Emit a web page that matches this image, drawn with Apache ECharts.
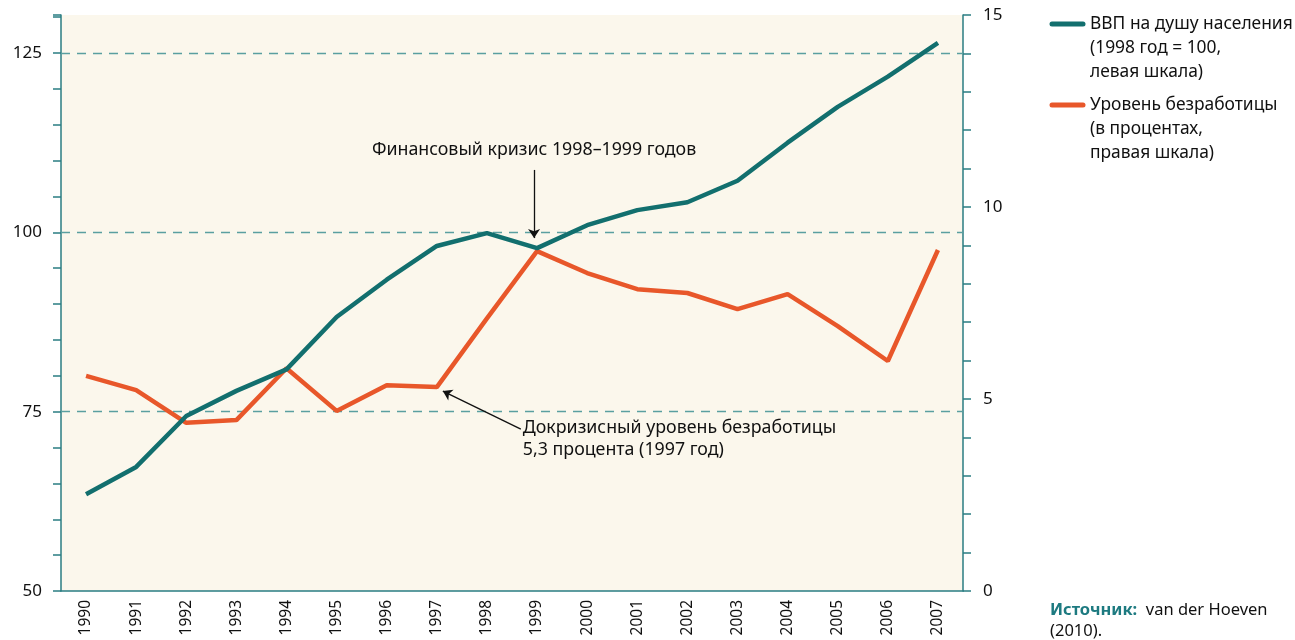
<!DOCTYPE html>
<html>
<head>
<meta charset="utf-8">
<script src="https://cdn.jsdelivr.net/npm/echarts@6/dist/echarts.min.js"></script>
<style>
  html, body { margin: 0; padding: 0; background: #fff; }
  #main { width: 1295px; height: 640px; }
</style>
</head>
<body>
<div id="main"></div>
<script>
var years = ['1990', '1991', '1992', '1993', '1994', '1995', '1996', '1997', '1998',
  '1999', '2000', '2001', '2002', '2003', '2004', '2005', '2006', '2007'];
// ВВП на душу населения, 1998 = 100 (левая шкала)
var gdpPerCapita = [63.5, 67.3, 74.4, 77.9, 80.9, 88.2, 93.4, 98.1, 99.9,
  97.8, 101.0, 103.1, 104.2, 107.2, 112.5, 117.5, 121.7, 126.4];
// Уровень безработицы, % (правая шкала)
var unemployment = [5.6, 5.23, 4.38, 4.45, 5.8, 4.69, 5.36, 5.31, 7.1,
  8.85, 8.28, 7.86, 7.76, 7.34, 7.73, 6.9, 5.99, 8.88];
var leftGridLines = [75, 100, 125];
var leftLabels = [50, 75, 100, 125];

var teal = '#126f6e';
var orange = '#e8572a';
var axisTeal = '#2a7d82';
var dashTeal = '#5a9fa0';
var font = 'Noto Sans';

var chart = echarts.init(document.getElementById('main'));

var option = {
  animation: false,
  grid: {
    left: 61, right: 332, top: 15, bottom: 49,
    show: true, backgroundColor: '#fbf7ec', borderWidth: 0
  },
  xAxis: {
    type: 'category',
    data: years,
    boundaryGap: true,
    axisLine: { lineStyle: { color: axisTeal, width: 1.5 } },
    axisTick: { length: 8, lineStyle: { color: axisTeal, width: 1.5 } },
    axisLabel: { rotate: 90, margin: 9, color: '#111', fontSize: 15.5, fontFamily: font },
    splitLine: { show: false }
  },
  yAxis: [
    {
      type: 'value',
      min: 50, max: 130.3, interval: 5,
      axisLine: { show: true, lineStyle: { color: axisTeal, width: 1.5 } },
      axisTick: { show: true, length: 8, lineStyle: { color: axisTeal, width: 1.5 } },
      axisLabel: {
        margin: 19, color: '#111', fontSize: 17, fontFamily: font,
        formatter: function (v) { return leftLabels.indexOf(v) >= 0 ? String(v) : ''; }
      },
      splitLine: { show: false }
    },
    {
      type: 'value',
      min: 0, max: 15, interval: 1,
      axisLine: { show: true, lineStyle: { color: axisTeal, width: 1.5 } },
      axisTick: { show: true, length: 8, lineStyle: { color: axisTeal, width: 1.5 } },
      axisLabel: {
        margin: 20, color: '#111', fontSize: 17, fontFamily: font,
        formatter: function (v) { return v % 5 === 0 ? String(v) : ''; }
      },
      splitLine: { show: false }
    }
  ],
  series: [
    {
      name: 'Уровень безработицы',
      type: 'line',
      yAxisIndex: 1,
      data: unemployment,
      showSymbol: false,
      lineStyle: { color: orange, width: 4.5 },
      z: 2
    },
    {
      name: 'ВВП на душу населения',
      type: 'line',
      yAxisIndex: 0,
      data: gdpPerCapita,
      showSymbol: false,
      lineStyle: { color: teal, width: 4.5 },
      z: 3,
      markLine: {
        silent: true,
        symbol: 'none',
        z: 1,
        label: { show: false },
        lineStyle: { color: dashTeal, type: [9, 7], width: 1.3 },
        data: leftGridLines.map(function (v) { return { yAxis: v }; })
      }
    }
  ]
};
chart.setOption(option);

// Annotations, positioned from data coordinates
var crisisTop = chart.convertToPixel({ xAxisIndex: 0, yAxisIndex: 0 }, ['1999', 108.7]);
var crisisEnd = chart.convertToPixel({ xAxisIndex: 0, yAxisIndex: 0 }, ['1999', 99.2]);
var crisisText = chart.convertToPixel({ xAxisIndex: 0, yAxisIndex: 0 }, ['1999', 111.5]);
var pre = chart.convertToPixel({ xAxisIndex: 0, yAxisIndex: 1 }, ['1997', 5.31]);
var arrowTip = [pre[0] + 6, pre[1] + 4];
var arrowTail = [arrowTip[0] + 78, arrowTip[1] + 38];

chart.setOption({
  series: [
    {
      markLine: {
        silent: true,
        symbol: ['none', 'arrow'],
        symbolSize: 9,
        label: { show: false },
        lineStyle: { color: '#111', width: 1.3, type: 'solid' },
        data: [
          [{ x: crisisTop[0] - 3, y: crisisTop[1] }, { x: crisisEnd[0] - 3, y: crisisEnd[1] }],
          [{ x: arrowTail[0], y: arrowTail[1] }, { x: arrowTip[0], y: arrowTip[1] }]
        ]
      }
    },
    {}
  ],
  graphic: [
    {
      type: 'text', silent: true,
      style: {
        x: crisisText[0] - 3, y: crisisText[1], text: 'Финансовый кризис 1998–1999 годов',
        align: 'center', verticalAlign: 'middle',
        fontFamily: font, fontSize: 17.8, fill: '#111'
      }
    },
    {
      type: 'text', silent: true,
      style: {
        x: arrowTail[0] + 2, y: arrowTail[1] - 12,
        text: 'Докризисный уровень безработицы\n5,3 процента (1997 год)',
        align: 'left', verticalAlign: 'top', lineHeight: 22,
        fontFamily: font, fontSize: 17.8, fill: '#111'
      }
    },
    // legend
    {
      type: 'line', silent: true,
      shape: { x1: 1052, y1: 24, x2: 1083, y2: 24 },
      style: { stroke: teal, lineWidth: 5, lineCap: 'round' }
    },
    {
      type: 'text', silent: true,
      style: {
        x: 1090, y: 12, text: 'ВВП на душу населения\n(1998 год = 100,\nлевая шкала)',
        verticalAlign: 'top', lineHeight: 24,
        fontFamily: font, fontSize: 17.4, fill: '#111'
      }
    },
    {
      type: 'line', silent: true,
      shape: { x1: 1052, y1: 105, x2: 1083, y2: 105 },
      style: { stroke: orange, lineWidth: 5, lineCap: 'round' }
    },
    {
      type: 'text', silent: true,
      style: {
        x: 1090, y: 93, text: 'Уровень безработицы\n(в процентах,\nправая шкала)',
        verticalAlign: 'top', lineHeight: 24,
        fontFamily: font, fontSize: 17.4, fill: '#111'
      }
    },
    // source
    {
      type: 'text', silent: true,
      style: {
        x: 1050, y: 600,
        text: '{b|Источник:}  van der Hoeven\n(2010).',
        verticalAlign: 'top', lineHeight: 21,
        fontFamily: font, fontSize: 16.5, fill: '#111',
        rich: {
          b: { fontFamily: font, fontSize: 16.5, fontWeight: 'bold', fill: '#1d7a80', lineHeight: 21 }
        }
      }
    }
  ]
});
</script>
</body>
</html>
